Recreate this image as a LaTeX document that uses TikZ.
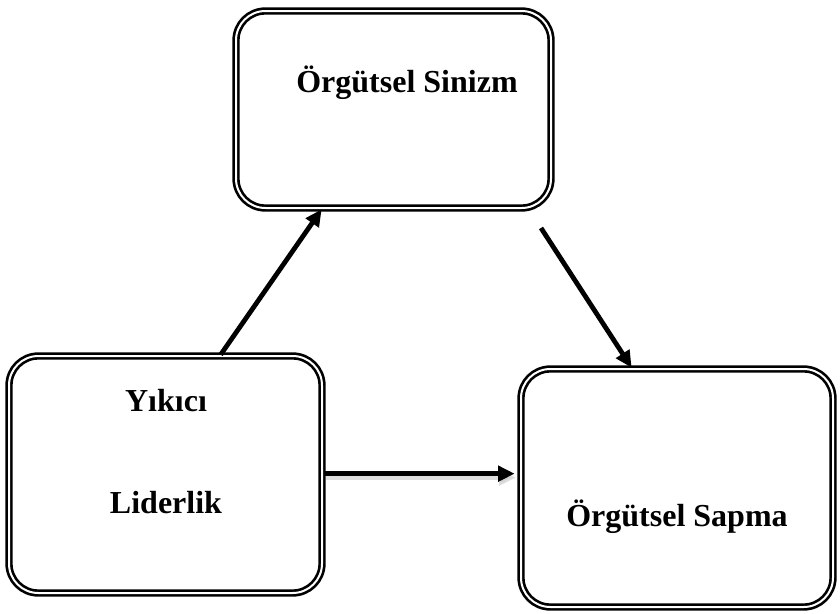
\documentclass[tikz,border=0pt]{standalone}
\usepackage{fontspec}
\setmainfont{Liberation Serif}
\usetikzlibrary{arrows.meta,calc}
\begin{document}
\begin{tikzpicture}[x=0.75pt,y=-0.75pt,
  box/.style={draw=black,line width=2pt,double=white,double distance=1.5pt,rounded corners=22pt,inner sep=0pt,fill=white},
  lbl/.style={font=\fontsize{24}{28}\selectfont\bfseries,inner sep=0pt},
  arr/.style={line width=3.6pt,-{Triangle[length=12.5pt,width=11.5pt]}}]
\useasboundingbox (0,0) rectangle (840,614);
\node[box,minimum width=236.25pt,minimum height=147.75pt] (S) at (393.5,109.5) {};
\node[box,minimum width=234.75pt,minimum height=177.75pt] (L) at (165.5,474.5) {};
\node[box,minimum width=234pt,minimum height=178.5pt] (P) at (677,488) {};
\node[lbl] (ts) at (407,83) {Örgütsel Sinizm};
\node[lbl] (ty) at (166,401) {Yıkıcı};
\node[lbl] (tl) at (166,503) {Liderlik};
\node[lbl] (tp) at (677,517) {Örgütsel Sapma};
\coordinate (a1s) at ($(L.north west)+(213,0)$);
\coordinate (a1e) at ($(S.south west)+(87,0)$);
\coordinate (a2s) at (541,228);
\coordinate (a2e) at ($(P.north west)+(112,0)$);
\coordinate (a3s) at ($(L.north east)+(2,119)$);
\coordinate (a3e) at ($(P.north west)+(-5,106)$);
\draw[arr,draw=black!22,opacity=0.6,-{Triangle[length=12.5pt,width=11.5pt,fill=black!22]}] ($(a3s)+(1,4)$) -- ($(a3e)+(1,4)$);
\draw[arr] (a1s) -- (a1e);
\draw[arr] (a2s) -- (a2e);
\draw[arr] (a3s) -- (a3e);
\end{tikzpicture}
\end{document}
